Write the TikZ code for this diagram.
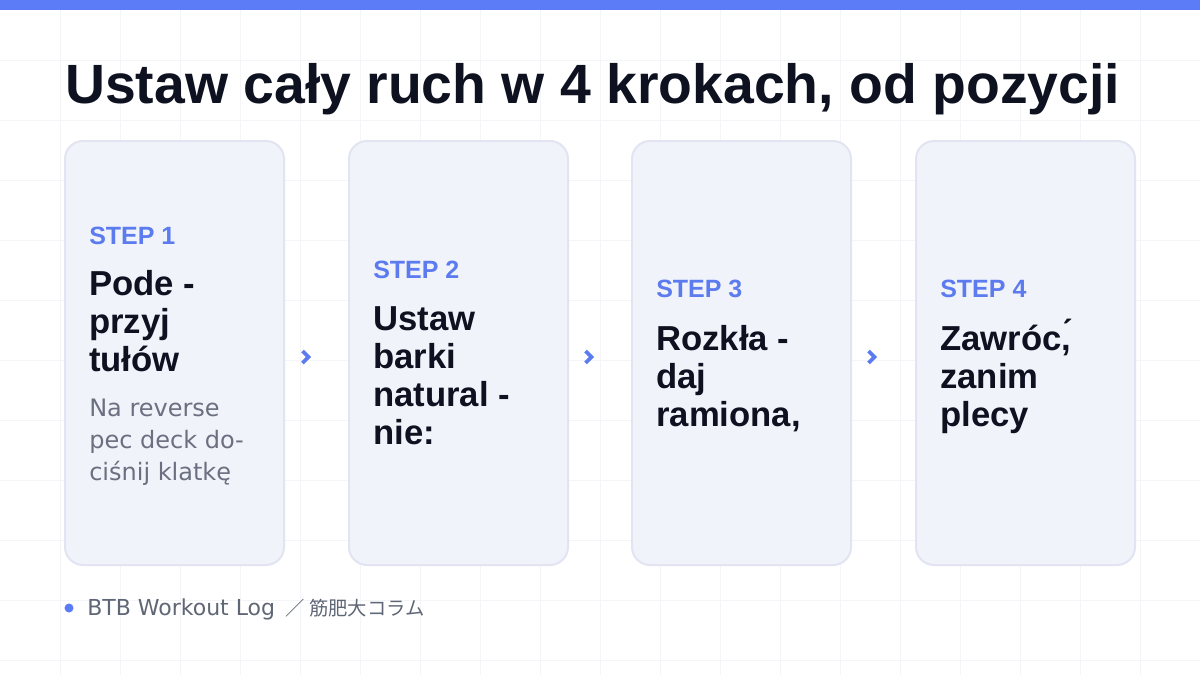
\documentclass[tikz,border=0pt]{standalone}
\usepackage{fontspec}
\setmainfont{Liberation Sans}
\newfontfamily\bodyfont{DejaVu Sans}
\newfontfamily\cjkfont{Noto Sans CJK JP}
\definecolor{barblue}{HTML}{5B7CF6}
\definecolor{stepblue}{HTML}{5B7BEF}
\definecolor{titlec}{HTML}{0E1120}
\definecolor{greyc}{HTML}{6B7080}
\definecolor{footc}{HTML}{5F6675}
\definecolor{cardfill}{HTML}{F1F3FB}
\definecolor{cardline}{HTML}{E2E5F1}
\definecolor{gridc}{HTML}{F4F5F8}
\tikzset{
  card/.style={draw=cardline, fill=cardfill, line width=1.5pt, rounded corners=13.5pt,
    minimum width=164.25pt, minimum height=318pt, inner sep=0pt},
  steplbl/.style={anchor=base west, inner sep=0pt, text=stepblue,
    font=\fontsize{18.75}{22}\selectfont\bfseries},
  headln/.style={anchor=base west, inner sep=0pt, text=titlec,
    font=\fontsize{26}{30}\selectfont\bfseries},
  bodyln/.style={anchor=base west, inner sep=0pt, text=greyc,
    font=\bodyfont\fontsize{18}{22}\selectfont},
  chevline/.style={draw=stepblue, line width=2.8pt, miter limit=4},
}
\begin{document}
\begin{tikzpicture}[x=0.75pt,y=-0.75pt]
\useasboundingbox (0,0) rectangle (1200,675);
\fill[white] (0,0) rectangle (1200,675);
\foreach \i in {1,...,19} \draw[gridc, line width=0.75pt] ({\i*60},0) -- ({\i*60},675);
\foreach \j in {1,...,11} \draw[gridc, line width=0.75pt] (0,{\j*60}) -- (1200,{\j*60});
\fill[barblue] (0,0) rectangle (1200,9.5);

\node[anchor=base west, inner sep=0pt, text=titlec, font=\fontsize{41.5}{50}\selectfont\bfseries]
  (title) at (65,103) {Ustaw cały ruch w 4 krokach, od pozycji};

\node[card] (c1) at (174.5,353) {};
\node[card] (c2) at (458.5,353) {};
\node[card] (c3) at (741.5,353) {};
\node[card] (c4) at (1025.5,353) {};

\coordinate (a1) at (306,357);
\coordinate (a2) at (589,357);
\coordinate (a3) at (872,357);
\foreach \a in {a1,a2,a3}
  \draw[chevline] (\a) ++(-3.5,-6) -- ++(6,6) -- ++(-6,6);

% card 1
\node[steplbl] (s1) at (89,244) {STEP 1};
\node[headln] (h1a) at (89,295) {Pode -};
\node[headln] (h1b) at (89,333) {przyj};
\node[headln] (h1c) at (89,371) {tułów};
\node[bodyln] (b1a) at (89,416) {Na reverse};
\node[bodyln] (b1b) at (89,448) {pec deck do-};
\node[bodyln] (b1c) at (89,480) {ciśnij klatkę};
% card 2
\node[steplbl] (s2) at (373,278) {STEP 2};
\node[headln] (h2a) at (373,330) {Ustaw};
\node[headln] (h2b) at (373,368) {barki};
\node[headln] (h2c) at (373,406) {natural -};
\node[headln] (h2d) at (373,444) {nie:};
% card 3
\node[steplbl] (s3) at (656,297) {STEP 3};
\node[headln] (h3a) at (656,350) {Rozkła -};
\node[headln] (h3b) at (656,388) {daj};
\node[headln] (h3c) at (656,426) {ramiona,};
% card 4
\node[steplbl] (s4) at (940,297) {STEP 4};
\node[headln] (h4a) at (940,350) {Zawróc,́};
\node[headln] (h4b) at (940,388) {zanim};
\node[headln] (h4c) at (940,426) {plecy};

% footer
\node[circle, fill=barblue, minimum size=6.75pt, inner sep=0pt] (dot) at (69,608) {};
\node[anchor=base west, inner sep=0pt, text=footc, font=\bodyfont\fontsize{16.5}{20}\selectfont]
  (foot) at (87,615) {BTB Workout Log\hspace{8pt}{\cjkfont\fontsize{14.5}{18}\selectfont ／\hspace{3pt}筋肥大コラム}};
\end{tikzpicture}
\end{document}
